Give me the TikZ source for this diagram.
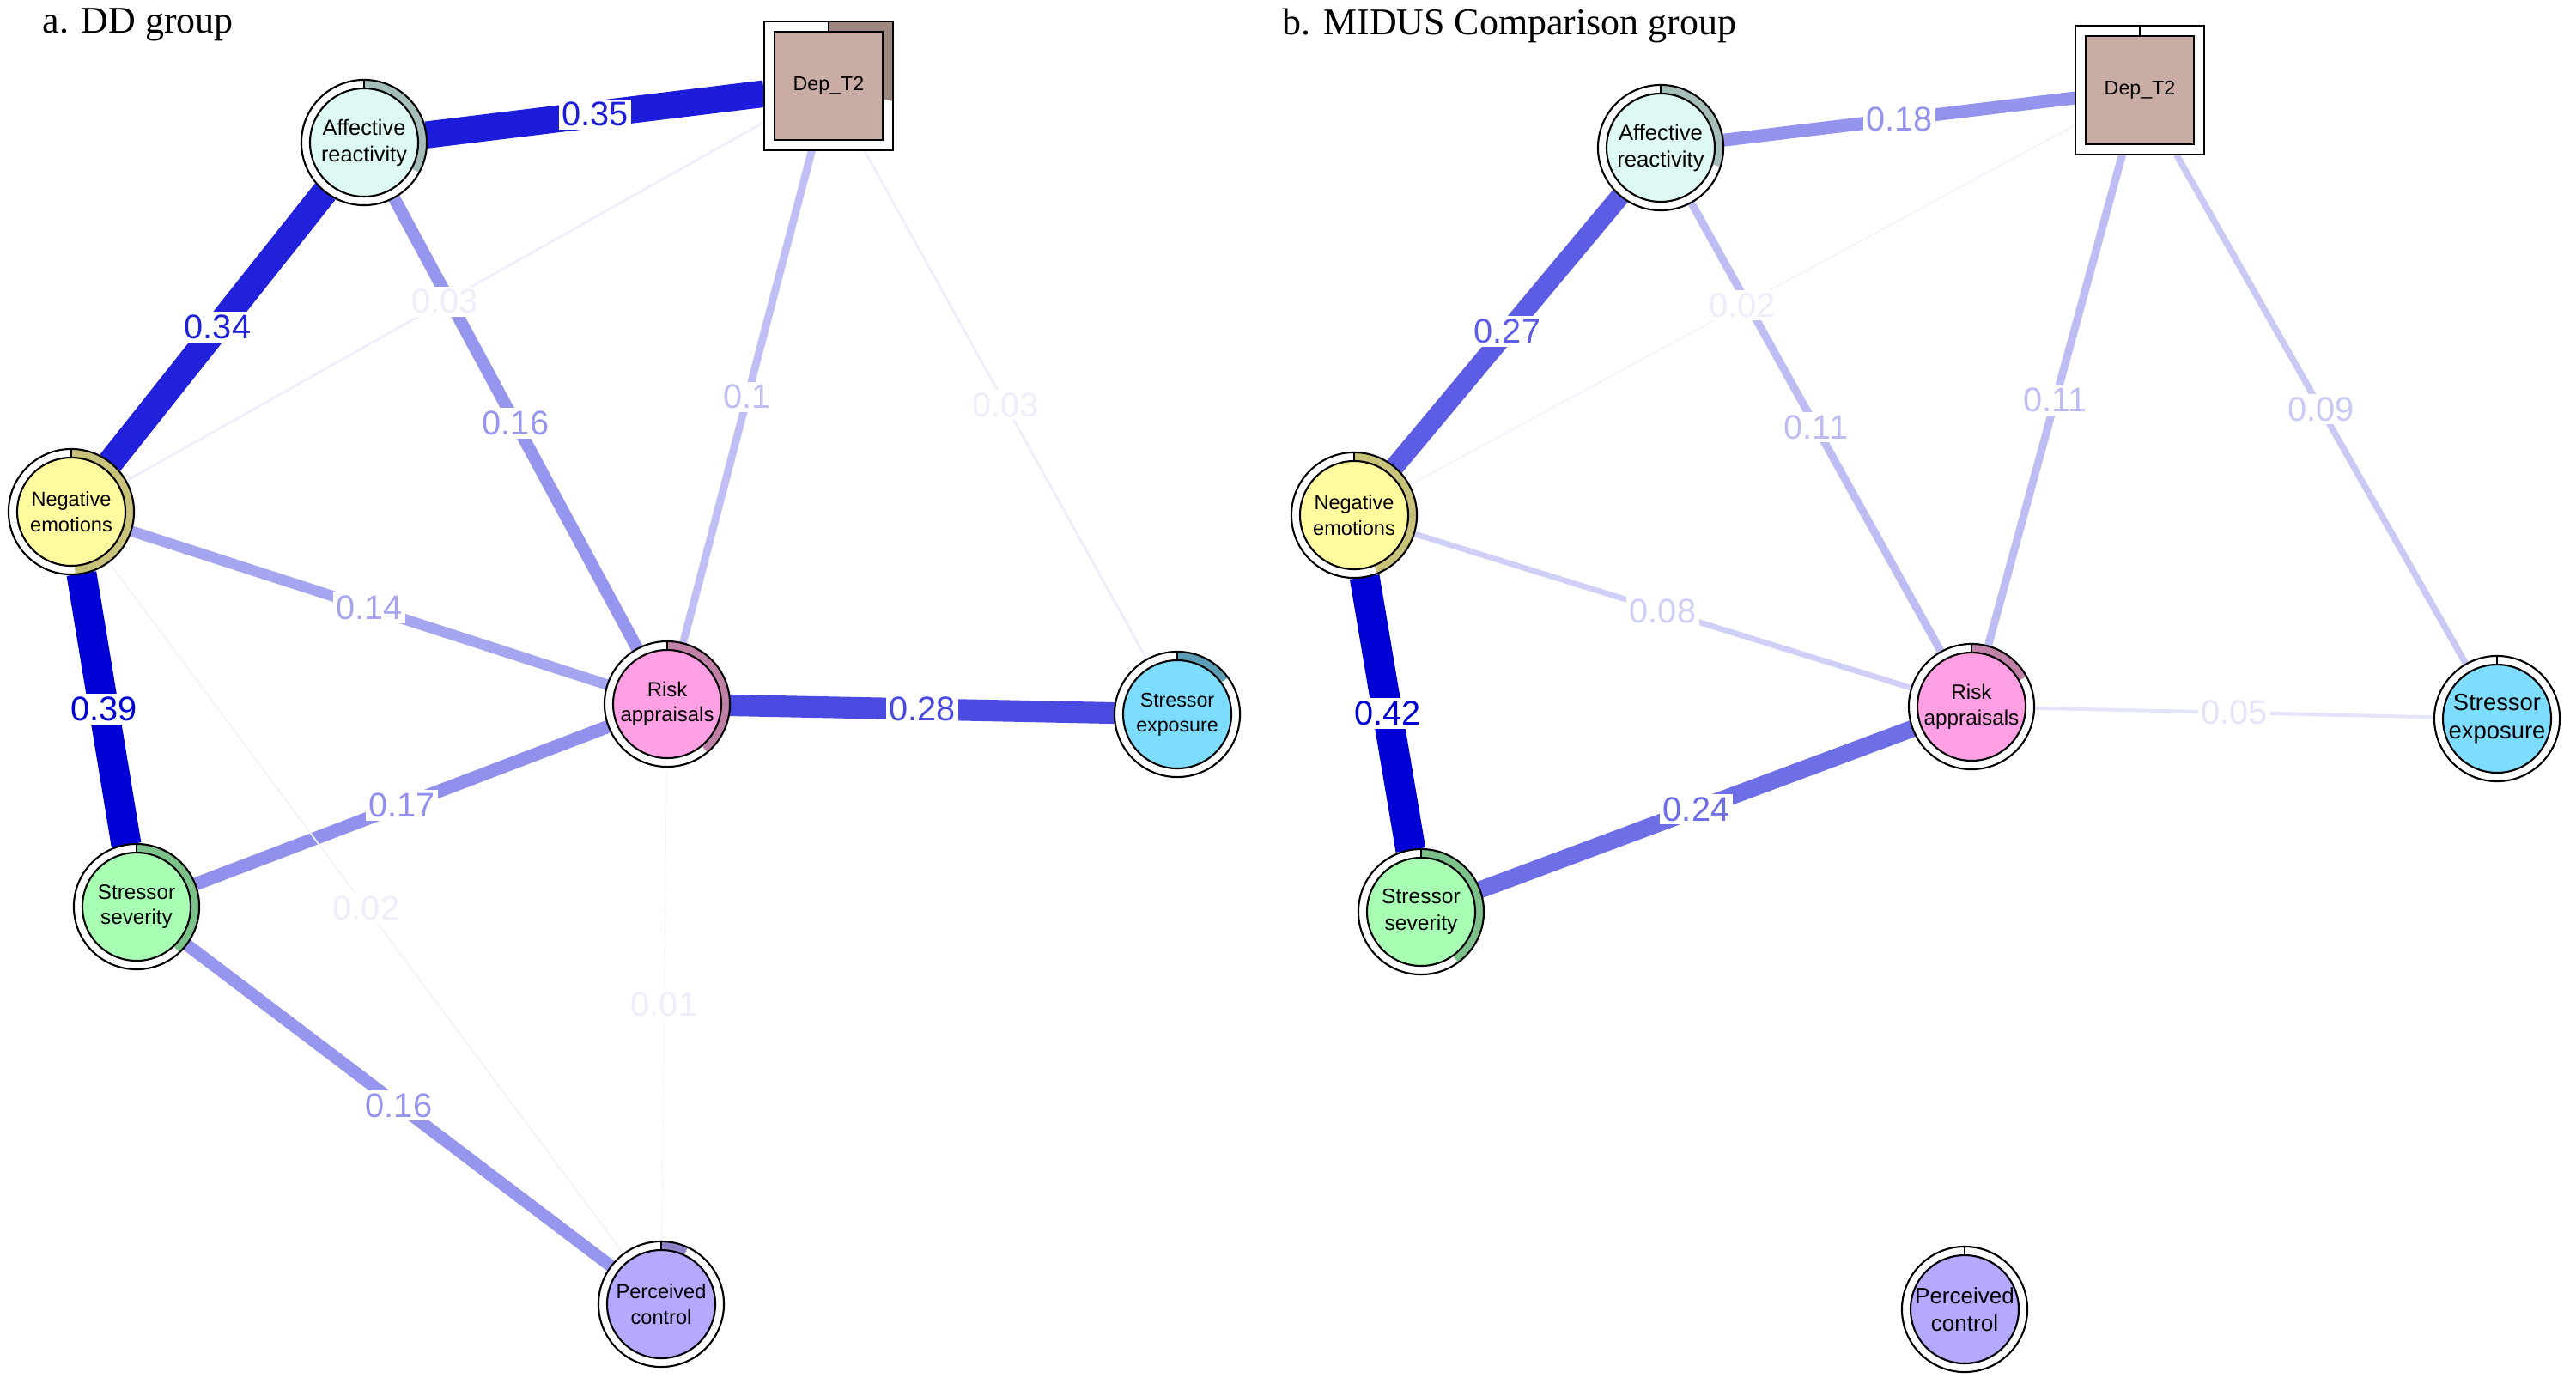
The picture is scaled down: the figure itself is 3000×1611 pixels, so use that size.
\documentclass[tikz,border=0pt]{standalone}
\usepackage{fontspec}
\setmainfont{Liberation Serif}
\setsansfont{Liberation Sans}
\usetikzlibrary{backgrounds}

\definecolor{edgeblue}{RGB}{0,0,213}
\definecolor{arfill}{RGB}{222,249,244}
\definecolor{arring}{RGB}{166,190,185}
\definecolor{depfill}{RGB}{201,173,165}
\definecolor{depring}{RGB}{158,135,128}
\definecolor{nefill}{RGB}{255,251,158}
\definecolor{nering}{RGB}{200,194,122}
\definecolor{rafill}{RGB}{255,160,228}
\definecolor{raring}{RGB}{192,128,168}
\definecolor{sefill}{RGB}{126,220,255}
\definecolor{sering}{RGB}{92,157,181}
\definecolor{ssfill}{RGB}{168,255,180}
\definecolor{ssring}{RGB}{124,192,138}
\definecolor{pcfill}{RGB}{180,168,255}
\definecolor{pcring}{RGB}{140,130,200}

\tikzset{
  vnode/.style={circle, draw, line width=0.6pt, minimum size=1.46cm, inner sep=0pt, outer sep=0pt, align=center},
  dnode/.style={rectangle, draw, line width=0.6pt, minimum size=1.5cm, inner sep=0pt, outer sep=0pt, font=\sffamily\fontsize{6.6}{8.2}\selectfont},
  elabel/.style={fill=white, inner sep=1pt, font=\sffamily\fontsize{11.3}{13}\selectfont},
  title/.style={anchor=base west, inner sep=0pt, font=\fontsize{12.5}{15}\selectfont}
}

% name, position, fill, ring colour, pie part, font size, label
\newcommand{\pienode}[7]{%
  \fill[white] (#2) circle (73);
  \fill[#4] (#2) -- ++(90:73) arc[start angle=90, delta angle={-360*#5}, radius=73] -- cycle;
  \filldraw[fill=#3, line width=0.6pt] (#2) circle (63);
  \draw[line width=0.6pt] (#2) ++(90:63) -- ++(90:10);
  \node[vnode, font=\sffamily\fontsize#6\selectfont] (#1) at (#2) {#7};
}

\begin{document}
\begin{tikzpicture}[x=0.01cm, y=0.01cm]
\useasboundingbox (0,0) rectangle (3000,-1611);

\node[title] (ttlA) at (49,-38) {a. DD group};
\node[title] (ttlB) at (1493,-40) {b. MIDUS Comparison group};

% a. DD group
\fill[white] (965,-100) ++(-75,-75) rectangle ++(150,150);
\fill[depring] (965,-100) -- ++(0,75) -- ++(75,0) -- ++(0,-93) -- cycle;
\filldraw[fill=depfill, line width=0.6pt] (965,-100) ++(-63,-63) rectangle ++(126,126);
\draw[line width=0.6pt] (965,-100) ++(0,63) -- ++(0,12);
\node[dnode] (depA) at (965,-100) {Dep\_T2};

\pienode{arA}{424,-166}{arfill}{arring}{0.33}{{7.2}{8.8}}{Affective\\reactivity}
\pienode{neA}{83,-596}{nefill}{nering}{0.49}{{6.7}{8.3}}{Negative\\emotions}
\pienode{raA}{777,-820}{rafill}{raring}{0.39}{{6.8}{8.4}}{Risk\\appraisals}
\pienode{seA}{1371,-832}{sefill}{sering}{0.15}{{6.6}{8.2}}{Stressor\\exposure}
\pienode{ssA}{159,-1056}{ssfill}{ssring}{0.38}{{6.9}{8.5}}{Stressor\\severity}
\pienode{pcA}{770,-1519}{pcfill}{pcring}{0.07}{{6.7}{8.3}}{Perceived\\control}

% b. MIDUS Comparison group
\fill[white] (2492,-105) ++(-75,-75) rectangle ++(150,150);
\filldraw[fill=depfill, line width=0.6pt] (2492,-105) ++(-63,-63) rectangle ++(126,126);
\draw[line width=0.6pt] (2492,-105) ++(0,63) -- ++(0,12);
\node[dnode] (depB) at (2492,-105) {Dep\_T2};

\pienode{arB}{1934,-172}{arfill}{arring}{0.30}{{7.3}{8.9}}{Affective\\reactivity}
\pienode{neB}{1577,-600}{nefill}{nering}{0.44}{{6.7}{8.3}}{Negative\\emotions}
\pienode{raB}{2296,-823}{rafill}{raring}{0.17}{{6.9}{8.5}}{Risk\\appraisals}
\pienode{seB}{2908,-837}{sefill}{sering}{0}{{7.8}{9.4}}{Stressor\\exposure}
\pienode{ssB}{1655,-1062}{ssfill}{ssring}{0.40}{{7.0}{8.6}}{Stressor\\severity}
\pienode{pcB}{2288,-1525}{pcfill}{pcring}{0}{{7.4}{9.0}}{Perceived\\control}

% edges
\begin{scope}[on background layer]
\foreach \a/\b/\w [evaluate=\w as \pct using {int(max(5,\w*100/0.39))}] in
  {arA/depA/0.35, arA/neA/0.34, arA/raA/0.16, neA/depA/0.03, depA/raA/0.1,
   depA/seA/0.03, neA/raA/0.14, neA/ssA/0.39, raA/seA/0.28, ssA/raA/0.17,
   neA/pcA/0.02, raA/pcA/0.01, ssA/pcA/0.16}
  \draw[edgeblue!\pct!white, line width=\w*0.897cm] (\a) -- (\b);
\foreach \a/\b/\w [evaluate=\w as \pct using {int(max(5,\w*100/0.42))}] in
  {arB/depB/0.18, arB/neB/0.27, arB/raB/0.11, neB/depB/0.02, depB/raB/0.11,
   depB/seB/0.09, neB/raB/0.08, neB/ssB/0.42, raB/seB/0.05, ssB/raB/0.24}
  \draw[edgeblue!\pct!white, line width=\w*0.833cm] (\a) -- (\b);
\end{scope}

% edge labels
\foreach \a/\b/\w [evaluate=\w as \pct using {int(max(7,\w*100/0.39))}] in
  {arA/depA/0.35, arA/neA/0.34, arA/raA/0.16, neA/depA/0.03, depA/raA/0.1,
   depA/seA/0.03, neA/raA/0.14, neA/ssA/0.39, raA/seA/0.28, ssA/raA/0.17,
   neA/pcA/0.02, raA/pcA/0.01, ssA/pcA/0.16}
  \path (\a) -- node[elabel, text=edgeblue!\pct!white] (l\a\b) {\w} (\b);
\foreach \a/\b/\w [evaluate=\w as \pct using {int(max(7,\w*100/0.42))}] in
  {arB/depB/0.18, arB/neB/0.27, arB/raB/0.11, neB/depB/0.02, depB/raB/0.11,
   depB/seB/0.09, neB/raB/0.08, neB/ssB/0.42, raB/seB/0.05, ssB/raB/0.24}
  \path (\a) -- node[elabel, text=edgeblue!\pct!white] (l\a\b) {\w} (\b);
\end{tikzpicture}
\end{document}
